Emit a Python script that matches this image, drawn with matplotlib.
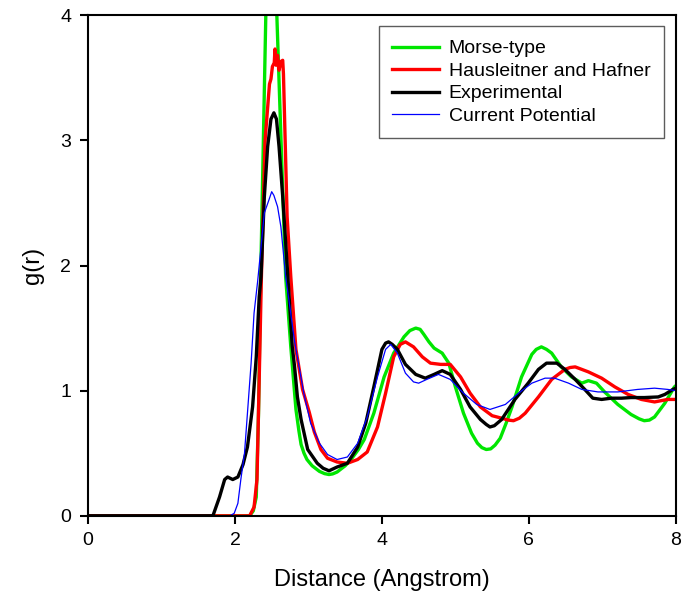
import matplotlib

matplotlib.use("Agg")

import matplotlib.pyplot as plt

plt.rcParams["font.family"] = ["Liberation Sans", "DejaVu Sans"]

# Morse-type (green)
morse_r = [0.0, 2.20, 2.25, 2.29, 2.32, 2.35, 2.42, 2.49, 2.57, 2.63, 2.69, 2.76, 2.83,
           2.87, 2.90, 2.94, 2.98, 3.05, 3.15, 3.22, 3.28, 3.33, 3.39, 3.50, 3.58, 3.68,
           3.76, 3.89, 4.03, 4.16, 4.30, 4.38, 4.46, 4.52, 4.57, 4.64, 4.71, 4.82, 4.91,
           5.00, 5.11, 5.22, 5.30, 5.36, 5.42, 5.48, 5.54, 5.61, 5.69, 5.77, 5.90, 6.04,
           6.10, 6.17, 6.24, 6.31, 6.44, 6.58, 6.72, 6.81, 6.92, 7.03, 7.21, 7.39, 7.50,
           7.57, 7.64, 7.71, 7.85, 7.98, 8.0]
morse_g = [0.0, 0.0, 0.04, 0.15, 0.8, 1.9, 4.0, 4.6, 4.0, 2.95, 1.91, 1.35, 0.85,
           0.68, 0.57, 0.50, 0.45, 0.40, 0.355, 0.337, 0.33, 0.335, 0.35, 0.40, 0.45, 0.53,
           0.61, 0.82, 1.11, 1.30, 1.43, 1.48, 1.50, 1.49, 1.45, 1.39, 1.34, 1.30, 1.22,
           1.03, 0.82, 0.66, 0.58, 0.545, 0.53, 0.535, 0.565, 0.62, 0.74, 0.87, 1.11, 1.29,
           1.33, 1.35, 1.33, 1.30, 1.19, 1.11, 1.06, 1.08, 1.06, 0.99, 0.89, 0.81, 0.775,
           0.76, 0.765, 0.79, 0.90, 1.03, 1.04]

# Hausleitner and Hafner (red)
hh_r = [0.0, 2.20, 2.26, 2.30, 2.33, 2.36, 2.41, 2.47, 2.49, 2.51, 2.535, 2.545, 2.56,
        2.58, 2.60, 2.625, 2.65, 2.66, 2.71, 2.76, 2.83, 2.92, 3.01, 3.08, 3.17, 3.26,
        3.39, 3.53, 3.67, 3.80, 3.94, 4.05, 4.16, 4.25, 4.32, 4.43, 4.55, 4.66, 4.80,
        4.93, 5.07, 5.20, 5.34, 5.50, 5.63, 5.72, 5.79, 5.87, 5.95, 6.13, 6.31, 6.49,
        6.56, 6.63, 6.81, 6.99, 7.17, 7.35, 7.53, 7.71, 7.89, 8.0]
hh_g = [0.0, 0.0, 0.07, 0.29, 1.09, 1.91, 3.00, 3.45, 3.49, 3.59, 3.62, 3.73, 3.60,
        3.68, 3.56, 3.63, 3.64, 3.53, 2.39, 1.91, 1.33, 1.01, 0.83, 0.67, 0.53, 0.46,
        0.43, 0.42, 0.45, 0.51, 0.71, 0.98, 1.27, 1.37, 1.39, 1.35, 1.27, 1.22, 1.21,
        1.21, 1.11, 0.98, 0.87, 0.80, 0.78, 0.765, 0.76, 0.78, 0.82, 0.95, 1.09, 1.17,
        1.185, 1.19, 1.15, 1.10, 1.03, 0.97, 0.93, 0.91, 0.93, 0.93]

# Experimental (black)
exp_r = [0.0, 1.70, 1.79, 1.86, 1.90, 1.97, 2.04, 2.11, 2.17, 2.24, 2.29, 2.33, 2.355,
         2.40, 2.445, 2.49, 2.53, 2.565, 2.60, 2.65, 2.72, 2.78, 2.81, 2.85, 2.90, 2.99,
         3.12, 3.20, 3.28, 3.39, 3.53, 3.67, 3.78, 3.89, 4.00, 4.05, 4.09, 4.14, 4.21,
         4.32, 4.46, 4.59, 4.71, 4.82, 4.93, 5.07, 5.20, 5.34, 5.42, 5.47, 5.53, 5.63,
         5.81, 5.99, 6.13, 6.24, 6.38, 6.49, 6.63, 6.76, 6.87, 6.99, 7.12, 7.26, 7.39,
         7.57, 7.76, 7.85, 7.96, 8.0]
exp_g = [0.0, 0.0, 0.15, 0.29, 0.31, 0.29, 0.31, 0.41, 0.55, 0.87, 1.27, 1.75, 1.91,
         2.55, 2.95, 3.17, 3.22, 3.17, 2.95, 2.55, 1.91, 1.35, 1.20, 0.95, 0.77, 0.53,
         0.42, 0.38, 0.36, 0.39, 0.42, 0.55, 0.74, 1.03, 1.33, 1.38, 1.39, 1.37, 1.33,
         1.21, 1.13, 1.10, 1.13, 1.16, 1.13, 1.01, 0.87, 0.77, 0.73, 0.71, 0.72, 0.77,
         0.93, 1.06, 1.17, 1.22, 1.22, 1.17, 1.09, 1.01, 0.94, 0.93, 0.94, 0.94, 0.945,
         0.945, 0.95, 0.97, 1.01, 1.02]

# Current Potential (blue)
cur_r = [0.0, 1.93, 1.99, 2.04, 2.08, 2.13, 2.17, 2.22, 2.26, 2.31, 2.40, 2.46, 2.50,
         2.53, 2.58, 2.625, 2.69, 2.74, 2.81, 2.87, 2.94, 3.03, 3.15, 3.26, 3.39, 3.53,
         3.67, 3.80, 3.94, 4.05, 4.12, 4.21, 4.32, 4.43, 4.50, 4.61, 4.77, 4.93, 5.11,
         5.29, 5.47, 5.68, 5.86, 6.04, 6.22, 6.35, 6.54, 6.72, 6.94, 7.21, 7.48, 7.71,
         7.89, 8.0]
cur_g = [0.0, 0.0, 0.02, 0.10, 0.29, 0.50, 0.82, 1.22, 1.62, 1.88, 2.42, 2.52, 2.59,
         2.56, 2.47, 2.31, 1.91, 1.70, 1.40, 1.20, 0.97, 0.74, 0.58, 0.49, 0.45, 0.47,
         0.58, 0.79, 1.11, 1.33, 1.37, 1.30, 1.14, 1.07, 1.06, 1.09, 1.13, 1.09, 0.98,
         0.89, 0.85, 0.89, 0.98, 1.06, 1.10, 1.10, 1.06, 1.01, 0.99, 0.99, 1.01, 1.02,
         1.01, 1.00]

fig = plt.figure(figsize=(6.82, 6.09), dpi=100)
ax = fig.add_axes([0.129, 0.153, 0.862, 0.822])

ax.plot(morse_r, morse_g, color="#00e600", lw=2.4, label="Morse-type")
ax.plot(hh_r, hh_g, color="#ff0000", lw=2.4, label="Hausleitner and Hafner")
ax.plot(exp_r, exp_g, color="#000000", lw=2.4, label="Experimental")
ax.plot(cur_r, cur_g, color="#0000ff", lw=0.9, label="Current Potential")

ax.set_xlim(0, 8)
ax.set_ylim(0, 4)
ax.set_xticks([0, 2, 4, 6, 8])
ax.set_yticks([0, 1, 2, 3, 4])
ax.tick_params(direction="out", length=6, width=1.5, labelsize=14, pad=6)
for s in ax.spines.values():
    s.set_linewidth(1.5)

ax.set_xlabel("Distance (Angstrom)", fontsize=17, labelpad=14)
ax.set_ylabel("g(r)", fontsize=17, labelpad=12)

leg = ax.legend(loc="upper right", bbox_to_anchor=(0.98, 0.978), fontsize=14,
                frameon=True, fancybox=False, handlelength=2.4, handletextpad=0.5,
                borderpad=0.7, labelspacing=0.25, borderaxespad=0)
leg.get_frame().set_edgecolor("#333333")
leg.get_frame().set_linewidth(1.0)

fig.savefig("out.png", dpi=100)
